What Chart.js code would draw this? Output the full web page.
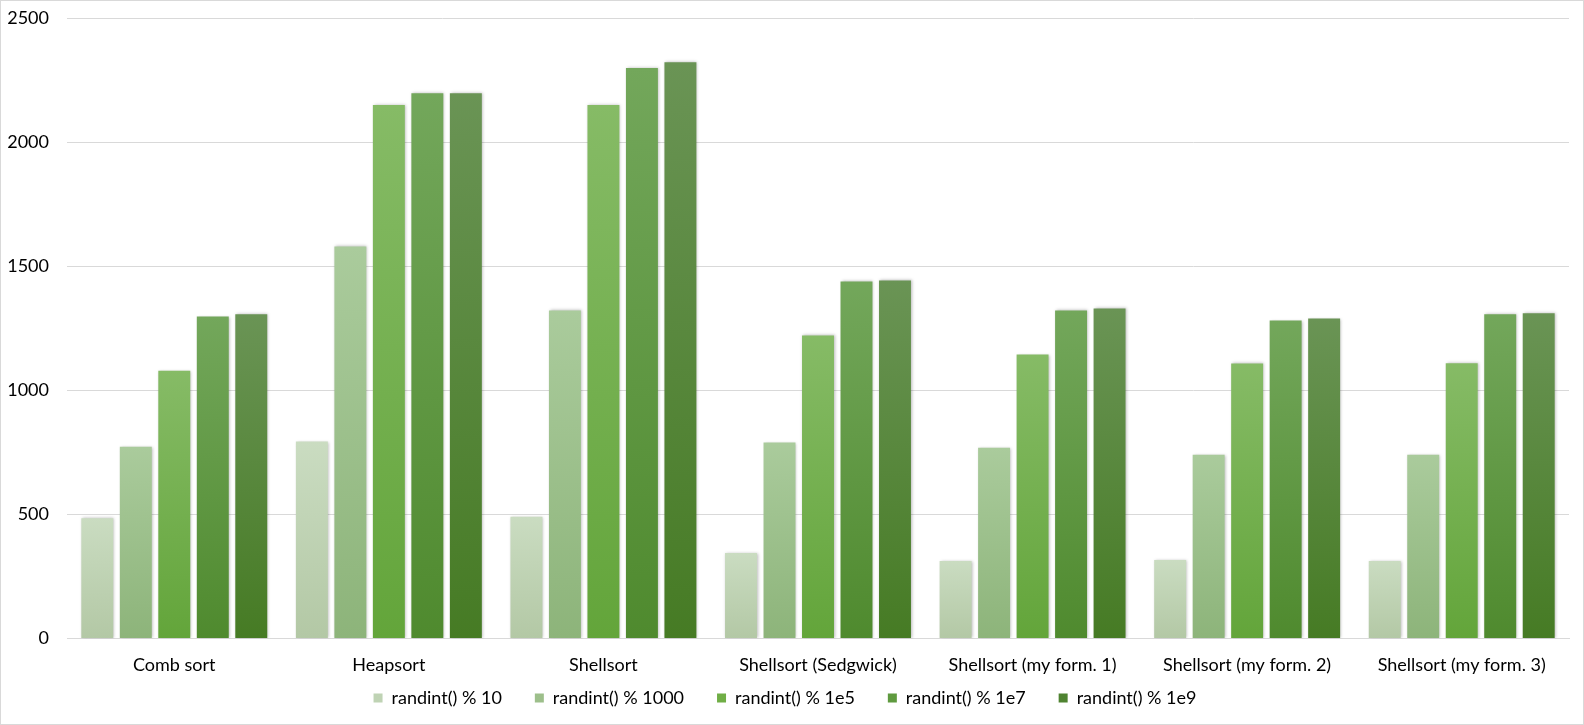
<!DOCTYPE html>
<html>
<head>
<meta charset="utf-8">
<script src="https://cdn.jsdelivr.net/npm/chart.js@4.4.1/dist/chart.umd.min.js"></script>
<style>
    html, body { margin: 0; padding: 0; background: #fff; }
    #box { width: 1584px; height: 725px; border: 1px solid #d9d9d9; box-sizing: border-box; }
</style>
</head>
<body>
<div id="box"><canvas id="barChart" width="1582" height="723"></canvas></div>
<script>
const categorias = ["Comb sort", "Heapsort", "Shellsort", "Shellsort (Sedgwick)", "Shellsort (my form. 1)", "Shellsort (my form. 2)", "Shellsort (my form. 3)"];
const series = ["randint() % 10", "randint() % 1000", "randint() % 1e5", "randint() % 1e7", "randint() % 1e9"];

const mod10 = [485, 794, 491, 345, 313, 317, 313];
const mod1000 = [773, 1581, 1323, 790, 769, 741, 741];
const mod1e5 = [1080, 2151, 2151, 1222, 1145, 1109, 1110];
const mod1e7 = [1298, 2199, 2300, 1440, 1323, 1282, 1307];
const mod1e9 = [1307, 2199, 2324, 1444, 1331, 1290, 1311];

const yTicks = [0, 500, 1000, 1500, 2000, 2500];

// cores: topo, base, legenda
const coresTopo = ["#cadcc1", "#aacb9c", "#86bb66", "#73a75b", "#6a9455"];
const coresBase = ["#b3c8a5", "#8db47a", "#63a53a", "#4f8a2e", "#467b24"];
const coresLegenda = ["#bfd3b4", "#9dbf8b", "#70ae46", "#5f9a3f", "#4f8331"];

const fonte = 'Lato, "Open Sans", sans-serif';

function gradiente(i) {
    return (context) => {
        const chart = context.chart;
        if (!chart.chartArea || !chart.scales.y || context.raw == null) {
            return coresLegenda[i];
        }
        const topo = chart.scales.y.getPixelForValue(context.raw);
        const base = chart.scales.y.getPixelForValue(0);
        const g = chart.ctx.createLinearGradient(0, topo, 0, base);
        g.addColorStop(0, coresTopo[i]);
        g.addColorStop(1, coresBase[i]);
        return g;
    };
}

const valores = [mod10, mod1000, mod1e5, mod1e7, mod1e9];
const datasets = [];
for (let i = 0; i < series.length; i++) {
    datasets.push({
        label: series[i],
        data: valores[i],
        backgroundColor: gradiente(i),
        borderWidth: 0,
        categoryPercentage: 0.897,
        barPercentage: 0.83
    });
}

const sombra = {
    id: "sombra",
    beforeDatasetsDraw(chart) {
        chart.ctx.save();
        chart.ctx.shadowColor = "rgba(0,0,0,0.28)";
        chart.ctx.shadowBlur = 3;
        chart.ctx.shadowOffsetX = 1;
    },
    afterDatasetsDraw(chart) {
        chart.ctx.restore();
    }
};

new Chart(document.getElementById("barChart"), {
    type: "bar",
    data: { labels: categorias, datasets },
    plugins: [sombra],
    options: {
        responsive: false,
        animation: false,
        layout: { padding: { top: 17.5, right: 14, left: 0, bottom: 7 } },
        scales: {
            y: {
                min: 0,
                max: 2500,
                afterBuildTicks: (s) => { s.ticks = yTicks.map(v => ({ value: v })); },
                afterFit: (s) => {
                    s.width = 66;
                    s.paddingTop = 0;
                    s.paddingBottom = 0;
                },
                grid: { color: "#d9d9d9", drawTicks: false },
                border: { display: false },
                ticks: { color: "#000", padding: 18, font: { family: fonte, size: 18 }, callback: (v) => String(v) }
            },
            x: {
                afterFit: (s) => {
                    s.height = 40;
                    s.paddingLeft = 0;
                    s.paddingRight = 0;
                },
                grid: { display: false, drawTicks: false },
                border: { display: true, color: "#d9d9d9" },
                ticks: { color: "#000", padding: 16, maxRotation: 0, autoSkip: false, font: { family: fonte, size: 18 } }
            }
        },
        plugins: {
            tooltip: { enabled: false },
            legend: {
                position: "bottom",
                labels: {
                    boxWidth: 9,
                    boxHeight: 9,
                    padding: 10.5,
                    color: "#000",
                    font: { family: fonte, size: 18 },
                    // espaço extra entre os itens da legenda
                    generateLabels: (chart) => chart.data.datasets.map((d, i) => ({
                        text: i < chart.data.datasets.length - 1 ? d.label + "\u2003\u2002" : d.label,
                        fillStyle: coresLegenda[i],
                        strokeStyle: coresLegenda[i],
                        lineWidth: 0,
                        hidden: false,
                        datasetIndex: i
                    }))
                }
            }
        }
    }
});
</script>
</body>
</html>
